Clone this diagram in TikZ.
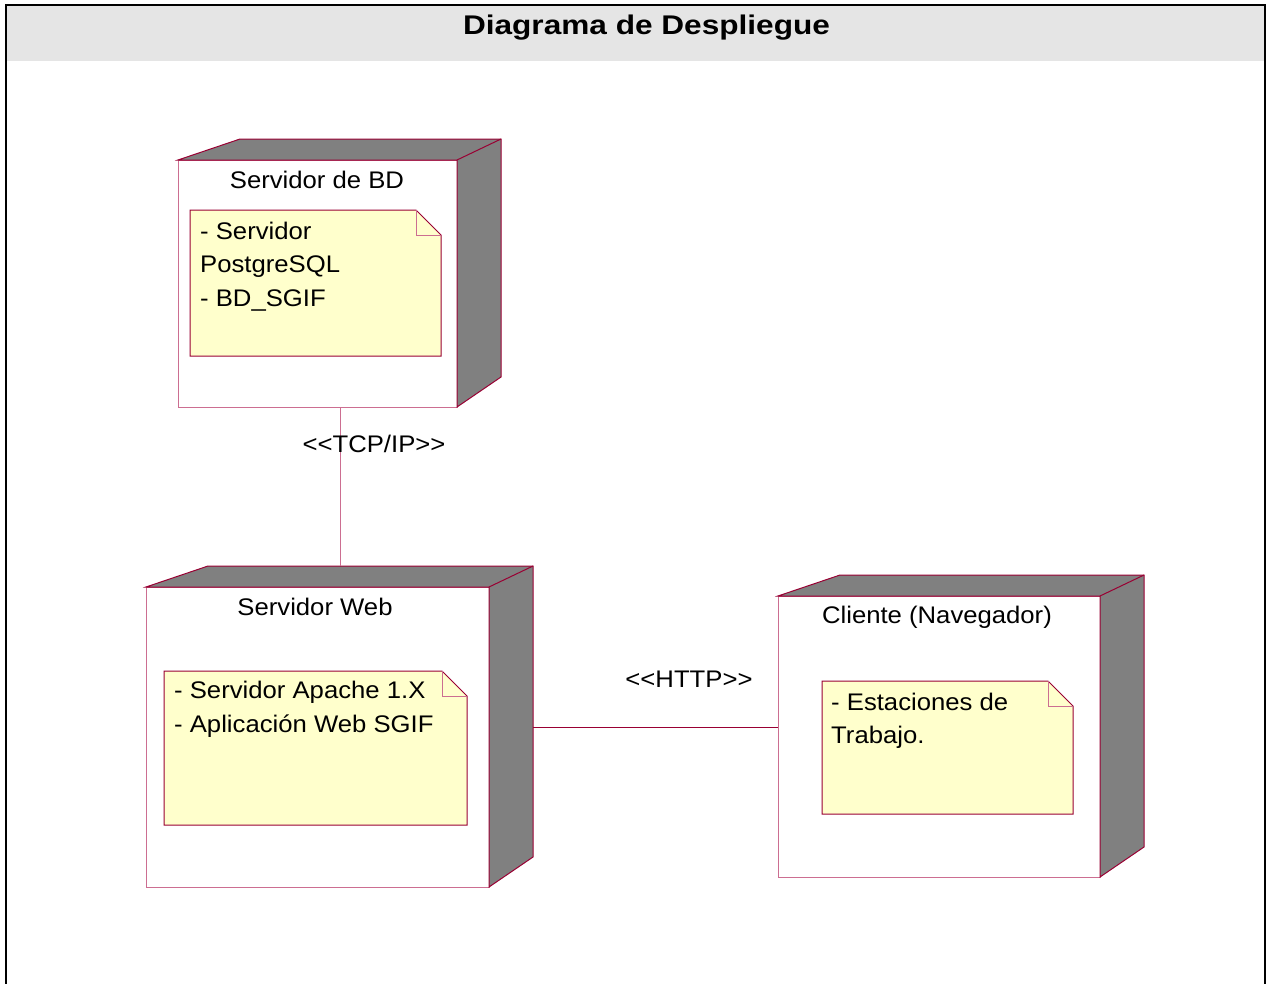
\documentclass[tikz,border=0pt]{standalone}
\usepackage{fontspec}
\setmainfont{Liberation Sans}[FakeStretch=1.07]
\newfontfamily\headfont{Liberation Sans}[FakeStretch=1.17]
\usetikzlibrary{calc}
\definecolor{edgedark}{RGB}{153,0,51}
\definecolor{edgelight}{RGB}{204,110,145}
\definecolor{sideface}{RGB}{128,128,128}
\definecolor{notefill}{RGB}{255,255,204}
\definecolor{titleband}{RGB}{229,229,229}

% grey top and right faces of a 3D deployment node
\newcommand\nodesides[1]{%
  \path[solidface] (#1.north west) -- ($(#1.north west)+(62,-21)$)
    -- ($(#1.north east)+(44,-21)$) -- ($(#1.south east)+(44,-30)$)
    -- (#1.south east) -- (#1.north east) -- cycle;
  \draw[solidedge] (#1.north east) -- ($(#1.north east)+(44,-21)$);}

% dog-eared note sheet over a placeholder node
\newcommand\notesheet[1]{%
  \path[notepath] (#1.north west) -- ($(#1.north east)+(-25,0)$)
    -- ($(#1.north east)+(0,25)$) -- (#1.south east) -- (#1.south west) -- cycle;
  \draw[foldline] ($(#1.north east)+(-25,0)$) -- ($(#1.north east)+(-25,25)$)
    -- ($(#1.north east)+(0,25)$);}

\begin{document}
\begin{tikzpicture}[x=1pt,y=-1pt,
  front/.style={draw=edgelight, fill=white, line width=1pt, inner sep=0pt,
    outer sep=0pt, anchor=north west},
  solidface/.style={fill=sideface, draw=edgedark, line width=1pt, line join=miter},
  solidedge/.style={draw=edgedark, line width=1pt},
  notebox/.style={inner sep=0pt, outer sep=0pt, anchor=north west},
  notepath/.style={fill=notefill, draw=edgedark, line width=1pt},
  foldline/.style={draw=edgelight, line width=1pt},
  txt/.style={inner sep=0pt, anchor=base west, font=\fontsize{24pt}{28pt}\selectfont},
  ctxt/.style={inner sep=0pt, anchor=base, font=\fontsize{24pt}{28pt}\selectfont},
  linkdark/.style={draw=edgedark, line width=1pt},
  linklight/.style={draw=edgelight, line width=1pt},
]
\useasboundingbox (0,0) rectangle (1268,983);
\fill[white] (0,0) rectangle (1268,983);

% title band and frame
\fill[titleband] (6,5) rectangle (1265,61);
\draw[black, line width=2pt] (6,990) -- (6,5) -- (1265,5) -- (1265,990);
\node[inner sep=0pt, anchor=base,
  font=\headfont\fontsize{27pt}{30pt}\selectfont\bfseries] (title) at (646.5,34)
  {Diagrama de Despliegue};

% deployment nodes
\node[front, minimum width=279pt, minimum height=247pt] (bd) at (178,160) {};
\nodesides{bd}
\node[front, minimum width=343pt, minimum height=300pt] (web) at (146,587) {};
\nodesides{web}
\node[front, minimum width=322pt, minimum height=281pt] (cli) at (778,596) {};
\nodesides{cli}

\node[ctxt] (bdname) at (317,188) {Servidor de BD};
\node[ctxt] (webname) at (315,615) {Servidor Web};
\node[ctxt] (cliname) at (937,623) {Cliente (Navegador)};

% notes
\node[notebox, minimum width=251pt, minimum height=146pt] (bdnote) at (190,210) {};
\notesheet{bdnote}
\node[notebox, minimum width=303pt, minimum height=154pt] (webnote) at (164,671) {};
\notesheet{webnote}
\node[notebox, minimum width=251pt, minimum height=133pt] (clinote) at (822,681) {};
\notesheet{clinote}

\node[txt] (bdl1) at (200,239) {- Servidor};
\node[txt] (bdl2) at (200,272) {PostgreSQL};
\node[txt] (bdl3) at (200,306) {- BD\_SGIF};
\node[txt] (webl1) at (174,698) {- Servidor Apache 1.X};
\node[txt] (webl2) at (174,732) {- Aplicación Web SGIF};
\node[txt] (clil1) at (831,710) {- Estaciones de};
\node[txt] (clil2) at (831,743) {Trabajo.};

% connectors
\coordinate (webtop) at ($(web.north west)+(194,-21)$);
\draw[linklight] ($(bd.south west)+(162,0)$) -- (webtop);
\coordinate (webside) at ($(web.north east)+(44,140)$);
\draw[linkdark] (webside) -- (webside -| cli.west);

\node[ctxt] (tcplabel) at (374,452) {\mbox{<}\mbox{<}TCP/IP\mbox{>}\mbox{>}};
\node[ctxt] (httplabel) at (689,687) {\mbox{<}\mbox{<}HTTP\mbox{>}\mbox{>}};
\end{tikzpicture}
\end{document}
